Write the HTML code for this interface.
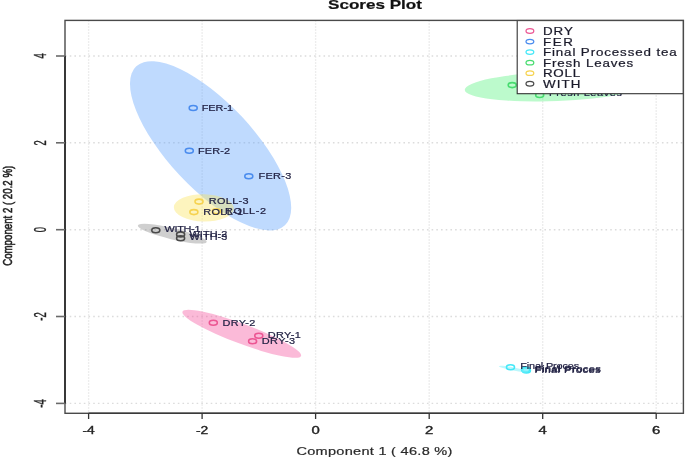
<!DOCTYPE html>
<html><head><meta charset="utf-8"><style>
html,body{margin:0;padding:0;background:#fff;}
body{width:685px;height:458px;overflow:hidden;}
svg{display:block;font-family:"Liberation Sans",sans-serif;filter:blur(0.3px);}
text{stroke-width:0.45;}
text.lb{stroke-width:0.2;}
text.tk{stroke-width:0.35;}
text.lg{stroke-width:0.2;}
text.yt{stroke-width:0.6;}
</style></head><body>
<svg width="685" height="458" viewBox="0 0 685 458">
<rect x="0" y="0" width="685" height="458" fill="#fff"/>
<g stroke="#dcdcdc" stroke-width="1.4"><line x1="88.6" y1="20.4" x2="88.6" y2="413.3" stroke-dasharray="1.2 1.8"/><line x1="202.1" y1="20.4" x2="202.1" y2="413.3" stroke-dasharray="1.2 1.8"/><line x1="315.6" y1="20.4" x2="315.6" y2="413.3" stroke-dasharray="1.2 1.8"/><line x1="429.2" y1="20.4" x2="429.2" y2="413.3" stroke-dasharray="1.2 1.8"/><line x1="542.7" y1="20.4" x2="542.7" y2="413.3" stroke-dasharray="1.2 1.8"/><line x1="656.2" y1="20.4" x2="656.2" y2="413.3" stroke-dasharray="1.2 1.8"/><line x1="65.0" y1="56.0" x2="683.4" y2="56.0" stroke-dasharray="1.6 3.1"/><line x1="65.0" y1="142.8" x2="683.4" y2="142.8" stroke-dasharray="1.6 3.1"/><line x1="65.0" y1="229.7" x2="683.4" y2="229.7" stroke-dasharray="1.6 3.1"/><line x1="65.0" y1="316.5" x2="683.4" y2="316.5" stroke-dasharray="1.6 3.1"/><line x1="65.0" y1="403.4" x2="683.4" y2="403.4" stroke-dasharray="1.6 3.1"/></g>
<ellipse cx="210.6" cy="145.8" rx="108.8" ry="42.7" transform="rotate(46.9 210.6 145.8)" fill="#5fa2fd" fill-opacity="0.4"/>
<ellipse cx="241.76" cy="333.84" rx="63.3" ry="9.9" transform="rotate(20.5 241.76 333.84)" fill="#f5529d" fill-opacity="0.4"/>
<ellipse cx="203.85" cy="207.9" rx="30.0" ry="13.6" transform="rotate(1.4 203.85 207.9)" fill="#fae35c" fill-opacity="0.4"/>
<ellipse cx="172.3" cy="233.7" rx="35.4" ry="5.6" transform="rotate(13.5 172.3 233.7)" fill="#878787" fill-opacity="0.4"/>
<ellipse cx="557.0" cy="86.2" rx="92.3" ry="14.8" transform="rotate(-2.3 557.0 86.2)" fill="#57f27f" fill-opacity="0.4"/>
<ellipse cx="513.5" cy="369.0" rx="15" ry="1.6" transform="rotate(11 513.5 369.0)" fill="#3ee8f5" fill-opacity="0.35"/>
<ellipse cx="193.2" cy="108.0" rx="4.0" ry="2.5" fill="none" stroke="#4a8cee" stroke-width="1.6"/>
<ellipse cx="189.3" cy="150.7" rx="4.0" ry="2.5" fill="none" stroke="#4a8cee" stroke-width="1.6"/>
<ellipse cx="248.8" cy="176.2" rx="4.0" ry="2.5" fill="none" stroke="#4a8cee" stroke-width="1.6"/>
<ellipse cx="199.0" cy="201.6" rx="4.0" ry="2.5" fill="none" stroke="#f6d350" stroke-width="1.6"/>
<ellipse cx="193.9" cy="212.1" rx="4.0" ry="2.5" fill="none" stroke="#f6d350" stroke-width="1.6"/>
<ellipse cx="216.4" cy="211.2" rx="4.0" ry="2.5" fill="none" stroke="#f6d350" stroke-width="1.6"/>
<ellipse cx="155.8" cy="230.2" rx="4.0" ry="2.5" fill="none" stroke="#4a4a4a" stroke-width="1.6"/>
<ellipse cx="180.6" cy="234.4" rx="4.0" ry="2.5" fill="none" stroke="#4a4a4a" stroke-width="1.6"/>
<ellipse cx="180.6" cy="238.2" rx="4.0" ry="2.5" fill="none" stroke="#4a4a4a" stroke-width="1.6"/>
<ellipse cx="213.3" cy="322.7" rx="4.0" ry="2.5" fill="none" stroke="#ec5693" stroke-width="1.6"/>
<ellipse cx="258.8" cy="335.7" rx="4.0" ry="2.5" fill="none" stroke="#ec5693" stroke-width="1.6"/>
<ellipse cx="252.6" cy="341.2" rx="4.0" ry="2.5" fill="none" stroke="#ec5693" stroke-width="1.6"/>
<ellipse cx="510.5" cy="367.2" rx="4.0" ry="2.5" fill="none" stroke="#44e8f8" stroke-width="1.6"/>
<ellipse cx="525.6" cy="369.6" rx="4.0" ry="2.5" fill="none" stroke="#44e8f8" stroke-width="1.6"/>
<ellipse cx="526.4" cy="370.4" rx="4.0" ry="2.5" fill="none" stroke="#44e8f8" stroke-width="1.6"/>
<ellipse cx="512.2" cy="85.1" rx="4.0" ry="2.5" fill="none" stroke="#48dc70" stroke-width="1.6"/>
<ellipse cx="539.7" cy="95.0" rx="4.0" ry="2.5" fill="none" stroke="#48dc70" stroke-width="1.6"/>
<ellipse cx="525.3" cy="370.2" rx="3.6" ry="2.4" fill="#6deefa" fill-opacity="0.7"/>
<text transform="translate(201.7 110.8) scale(1.3 1)" x="0" y="0" font-size="8.4" textLength="24.23" lengthAdjust="spacing" fill="#222244" stroke="#222244" class="lb">FER-1</text>
<text transform="translate(198.0 153.5) scale(1.3 1)" x="0" y="0" font-size="8.4" textLength="24.62" lengthAdjust="spacing" fill="#222244" stroke="#222244" class="lb">FER-2</text>
<text transform="translate(258.4 179.0) scale(1.3 1)" x="0" y="0" font-size="8.4" textLength="25.38" lengthAdjust="spacing" fill="#222244" stroke="#222244" class="lb">FER-3</text>
<text transform="translate(208.7 204.4) scale(1.3 1)" x="0" y="0" font-size="8.4" textLength="30.77" lengthAdjust="spacing" fill="#222244" stroke="#222244" class="lb">ROLL-3</text>
<text transform="translate(203.2 214.9) scale(1.3 1)" x="0" y="0" font-size="8.4" textLength="30.77" lengthAdjust="spacing" fill="#222244" stroke="#222244" class="lb">ROLL-1</text>
<text transform="translate(225.0 214.0) scale(1.3 1)" x="0" y="0" font-size="8.4" textLength="31.54" lengthAdjust="spacing" fill="#222244" stroke="#222244" class="lb">ROLL-2</text>
<text transform="translate(164.5 232.3) scale(1.3 1)" x="0" y="0" font-size="8.4" textLength="27.69" lengthAdjust="spacing" fill="#222244" stroke="#222244" class="lb">WITH-1</text>
<text transform="translate(189.4 236.8) scale(1.3 1)" x="0" y="0" font-size="8.4" textLength="29.23" lengthAdjust="spacing" fill="#222244" stroke="#222244" class="lb">WITH-2</text>
<text transform="translate(189.4 240.20000000000002) scale(1.3 1)" x="0" y="0" font-size="8.4" textLength="29.23" lengthAdjust="spacing" fill="#222244" stroke="#222244" class="lb">WITH-3</text>
<text transform="translate(222.4 325.5) scale(1.3 1)" x="0" y="0" font-size="8.4" textLength="25.38" lengthAdjust="spacing" fill="#222244" stroke="#222244" class="lb">DRY-2</text>
<text transform="translate(267.8 338.0) scale(1.3 1)" x="0" y="0" font-size="8.4" textLength="25.38" lengthAdjust="spacing" fill="#222244" stroke="#222244" class="lb">DRY-1</text>
<text transform="translate(261.8 343.5) scale(1.3 1)" x="0" y="0" font-size="8.4" textLength="25.62" lengthAdjust="spacing" fill="#222244" stroke="#222244" class="lb">DRY-3</text>
<text transform="translate(520.2 369.0) scale(1.3 1)" x="0" y="0" font-size="8.4" textLength="45.38" lengthAdjust="spacing" fill="#222244" stroke="#222244" class="lb">Final Proces</text>
<text transform="translate(534.4 372.6) scale(1.3 1)" x="0" y="0" font-size="8.4" textLength="50.77" lengthAdjust="spacing" fill="#222244" stroke="#222244" class="lb">Final Proces</text>
<text transform="translate(535.0 372.40000000000003) scale(1.3 1)" x="0" y="0" font-size="8.4" textLength="50.77" lengthAdjust="spacing" fill="#222244" stroke="#222244" class="lb">Final Proces</text>
<text transform="translate(549.0 95.8) scale(1.3 1)" x="0" y="0" font-size="8.4" textLength="56.15" lengthAdjust="spacing" fill="#222244" stroke="#222244" class="lb">Fresh Leaves</text>
<rect x="517.2" y="20.5" width="166.2" height="73.2" fill="#fff" stroke="#333" stroke-width="1.1"/>
<ellipse cx="529.9" cy="31.00" rx="3.9" ry="2.3" fill="none" stroke="#ec5693" stroke-width="1.25"/>
<text transform="translate(542.9 35.2) scale(1.3 1)" x="0" y="0" font-size="10.3" textLength="23.08" lengthAdjust="spacing" fill="#1a1a2a" stroke="#1a1a2a" class="lg">DRY</text>
<ellipse cx="529.9" cy="41.55" rx="3.9" ry="2.3" fill="none" stroke="#4a8cee" stroke-width="1.25"/>
<text transform="translate(542.9 45.75) scale(1.3 1)" x="0" y="0" font-size="10.3" textLength="23.08" lengthAdjust="spacing" fill="#1a1a2a" stroke="#1a1a2a" class="lg">FER</text>
<ellipse cx="529.9" cy="52.10" rx="3.9" ry="2.3" fill="none" stroke="#44e8f8" stroke-width="1.25"/>
<text transform="translate(542.9 56.300000000000004) scale(1.3 1)" x="0" y="0" font-size="10.3" textLength="103.00" lengthAdjust="spacing" fill="#1a1a2a" stroke="#1a1a2a" class="lg">Final Processed tea</text>
<ellipse cx="529.9" cy="62.65" rx="3.9" ry="2.3" fill="none" stroke="#48dc70" stroke-width="1.25"/>
<text transform="translate(542.9 66.85000000000001) scale(1.3 1)" x="0" y="0" font-size="10.3" textLength="69.54" lengthAdjust="spacing" fill="#1a1a2a" stroke="#1a1a2a" class="lg">Fresh Leaves</text>
<ellipse cx="529.9" cy="73.20" rx="3.9" ry="2.3" fill="none" stroke="#f6d350" stroke-width="1.25"/>
<text transform="translate(542.9 77.4) scale(1.3 1)" x="0" y="0" font-size="10.3" textLength="28.62" lengthAdjust="spacing" fill="#1a1a2a" stroke="#1a1a2a" class="lg">ROLL</text>
<ellipse cx="529.9" cy="83.75" rx="3.9" ry="2.3" fill="none" stroke="#4a4a4a" stroke-width="1.25"/>
<text transform="translate(542.9 87.95) scale(1.3 1)" x="0" y="0" font-size="10.3" textLength="28.92" lengthAdjust="spacing" fill="#1a1a2a" stroke="#1a1a2a" class="lg">WITH</text>
<rect x="65.0" y="20.4" width="618.4" height="392.90000000000003" fill="none" stroke="#4a4a4a" stroke-width="1.4"/>
<line x1="88.6" y1="413.3" x2="656.2" y2="413.3" stroke="#3a3a3a" stroke-width="1.4"/>
<line x1="65.0" y1="56.0" x2="65.0" y2="403.4" stroke="#111" stroke-width="1.3"/>
<line x1="88.6" y1="413.3" x2="88.6" y2="419.0" stroke="#333" stroke-width="1.3"/>
<text x="88.6" y="433.6" font-size="10.5" text-anchor="middle" textLength="12.3" lengthAdjust="spacingAndGlyphs" fill="#222" stroke="#222" class="tk">-4</text>
<line x1="202.1" y1="413.3" x2="202.1" y2="419.0" stroke="#333" stroke-width="1.3"/>
<text x="202.1" y="433.6" font-size="10.5" text-anchor="middle" textLength="12.3" lengthAdjust="spacingAndGlyphs" fill="#222" stroke="#222" class="tk">-2</text>
<line x1="315.6" y1="413.3" x2="315.6" y2="419.0" stroke="#333" stroke-width="1.3"/>
<text x="315.6" y="433.6" font-size="10.5" text-anchor="middle" textLength="8.3" lengthAdjust="spacingAndGlyphs" fill="#222" stroke="#222" class="tk">0</text>
<line x1="429.2" y1="413.3" x2="429.2" y2="419.0" stroke="#333" stroke-width="1.3"/>
<text x="429.2" y="433.6" font-size="10.5" text-anchor="middle" textLength="8.3" lengthAdjust="spacingAndGlyphs" fill="#222" stroke="#222" class="tk">2</text>
<line x1="542.7" y1="413.3" x2="542.7" y2="419.0" stroke="#333" stroke-width="1.3"/>
<text x="542.7" y="433.6" font-size="10.5" text-anchor="middle" textLength="8.3" lengthAdjust="spacingAndGlyphs" fill="#222" stroke="#222" class="tk">4</text>
<line x1="656.2" y1="413.3" x2="656.2" y2="419.0" stroke="#333" stroke-width="1.3"/>
<text x="656.2" y="433.6" font-size="10.5" text-anchor="middle" textLength="8.3" lengthAdjust="spacingAndGlyphs" fill="#222" stroke="#222" class="tk">6</text>
<line x1="56.0" y1="56.0" x2="65.0" y2="56.0" stroke="#6a6a6a" stroke-width="1.6"/>
<text transform="translate(46.3 56.0) rotate(-90) scale(1 1.95)" x="0" y="0" font-size="8" text-anchor="middle" textLength="5.2" lengthAdjust="spacingAndGlyphs" fill="#222" stroke="#222" class="lb">4</text>
<line x1="56.0" y1="142.8" x2="65.0" y2="142.8" stroke="#6a6a6a" stroke-width="1.6"/>
<text transform="translate(46.3 142.8) rotate(-90) scale(1 1.95)" x="0" y="0" font-size="8" text-anchor="middle" textLength="5.2" lengthAdjust="spacingAndGlyphs" fill="#222" stroke="#222" class="lb">2</text>
<line x1="56.0" y1="229.7" x2="65.0" y2="229.7" stroke="#6a6a6a" stroke-width="1.6"/>
<text transform="translate(46.3 229.7) rotate(-90) scale(1 1.95)" x="0" y="0" font-size="8" text-anchor="middle" textLength="5.2" lengthAdjust="spacingAndGlyphs" fill="#222" stroke="#222" class="lb">0</text>
<line x1="56.0" y1="316.5" x2="65.0" y2="316.5" stroke="#6a6a6a" stroke-width="1.6"/>
<text transform="translate(46.3 316.5) rotate(-90) scale(1 1.95)" x="0" y="0" font-size="8" text-anchor="middle" textLength="8.5" lengthAdjust="spacingAndGlyphs" fill="#222" stroke="#222" class="lb">-2</text>
<line x1="56.0" y1="403.4" x2="65.0" y2="403.4" stroke="#6a6a6a" stroke-width="1.6"/>
<text transform="translate(46.3 403.4) rotate(-90) scale(1 1.95)" x="0" y="0" font-size="8" text-anchor="middle" textLength="8.5" lengthAdjust="spacingAndGlyphs" fill="#222" stroke="#222" class="lb">-4</text>
<text x="328" y="8.7" font-size="13" font-weight="bold" textLength="94" lengthAdjust="spacingAndGlyphs" fill="#111" stroke="#111" class="lg">Scores Plot</text>
<text transform="translate(296.4 455.3) scale(1.3 1)" x="0" y="0" font-size="11.2" textLength="120.00" lengthAdjust="spacing" fill="#2a2a2a" stroke="#2a2a2a" class="lb">Component 1 ( 46.8 %)</text>
<text transform="translate(11.5 265.8) rotate(-90)" x="0" y="0" font-size="13" textLength="100" lengthAdjust="spacingAndGlyphs" fill="#222" stroke="#222" class="yt">Component 2 ( 20.2 %)</text>
</svg>
</body></html>
